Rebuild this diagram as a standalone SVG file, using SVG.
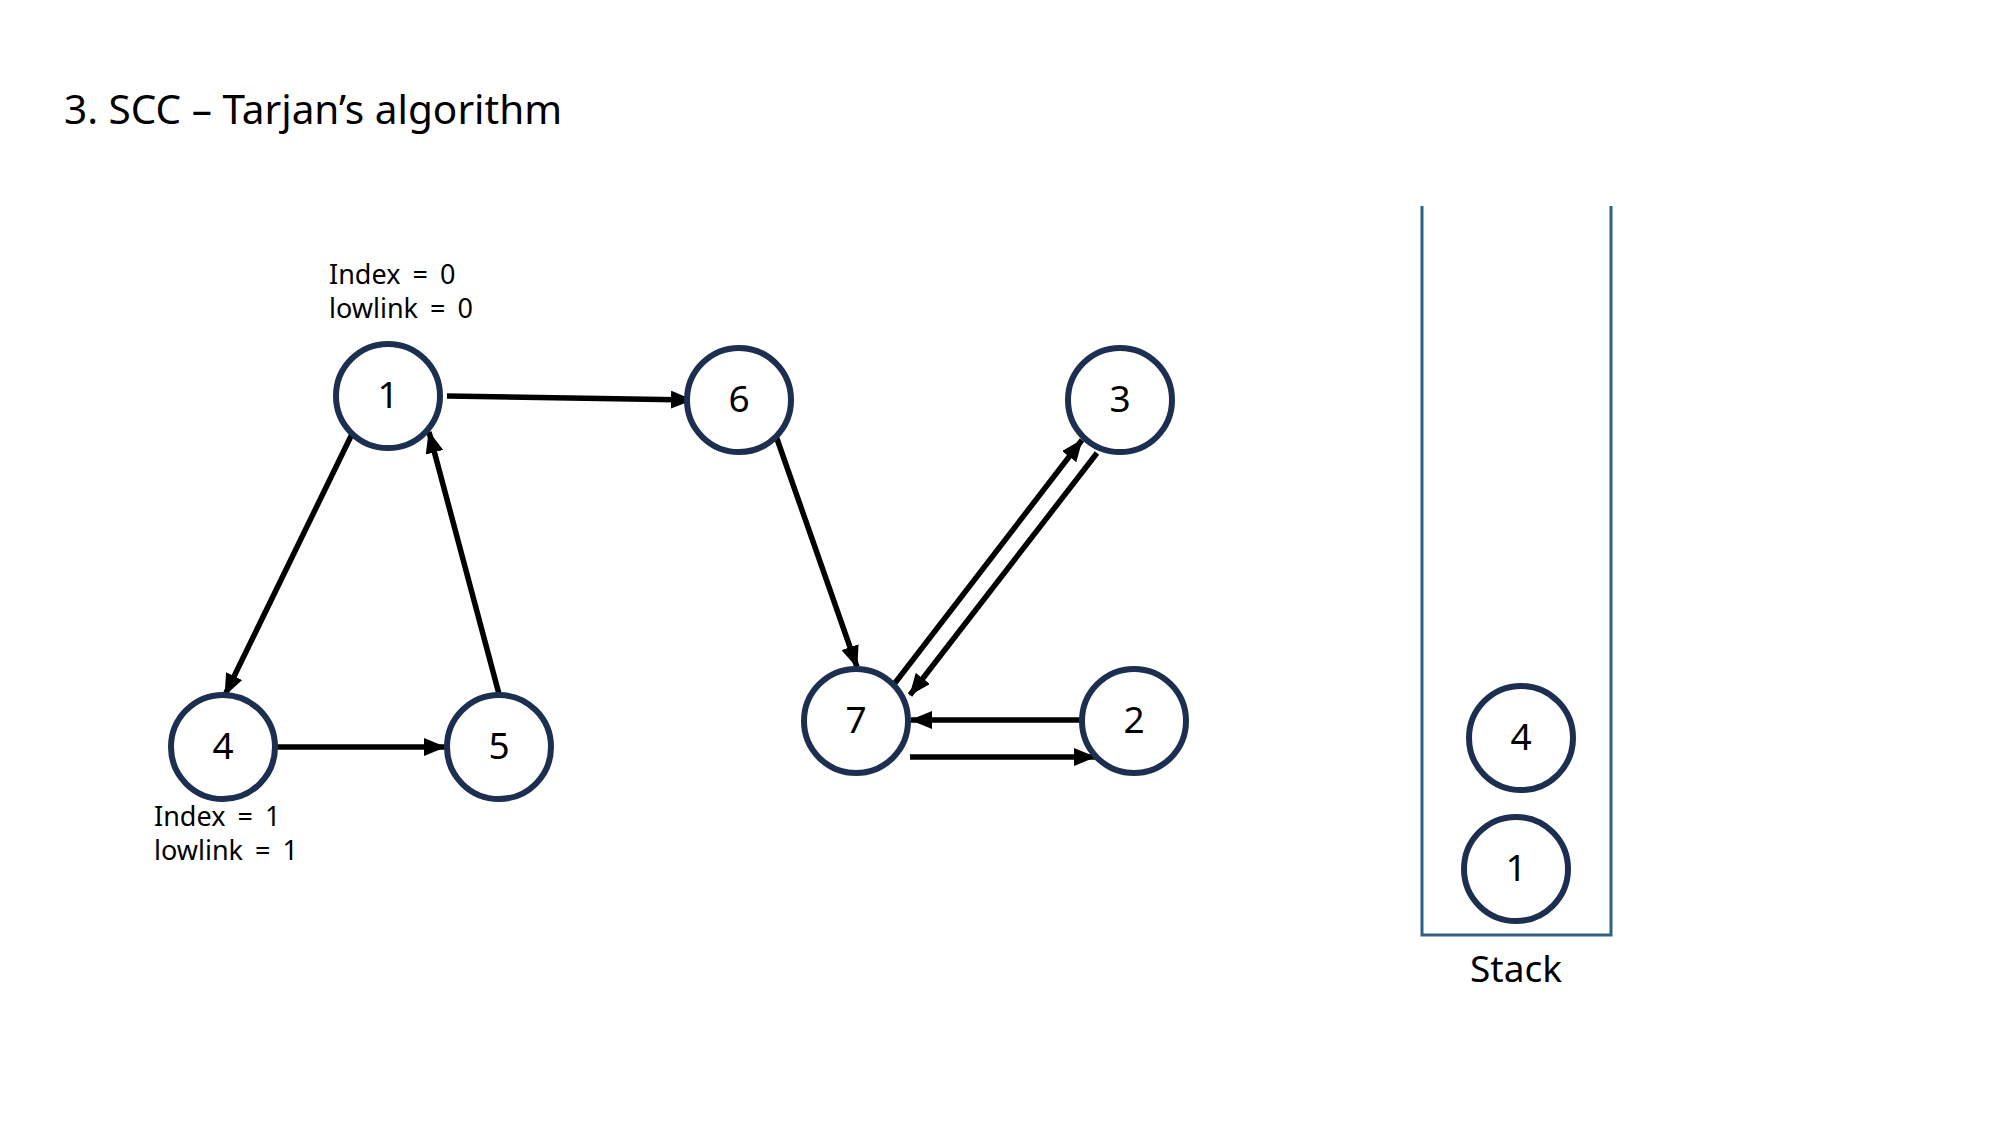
<svg xmlns="http://www.w3.org/2000/svg" width="2000" height="1125" viewBox="0 0 2000 1125">
<defs>
<marker id="ah" markerUnits="userSpaceOnUse" markerWidth="22" markerHeight="18" viewBox="0 0 22 18" refX="21" refY="9" orient="auto">
<path d="M0,0 L22,9 L0,18 Z" fill="#000"/>
</marker>
<style>
text{font-family:"Noto Sans","Open Sans","DejaVu Sans",sans-serif;fill:#000}
.node circle{fill:#fff;stroke:#1c2f50;stroke-width:6}
.node text{font-size:37px;text-anchor:middle}
.edge{stroke:#000;stroke-width:5.5;fill:none;marker-end:url(#ah)}
.lbl{font-size:27px;word-spacing:5px}
.stack{stroke:#2e6183;stroke-width:3;fill:none}
</style>
</defs>
<rect width="2000" height="1125" fill="#fff"/>
<text x="64" y="124" font-size="40.5">3. SCC – Tarjan’s algorithm</text>
<g id="connectors">
<line class="edge" x1="447" y1="396" x2="692" y2="400"/>
<line class="edge" x1="352" y1="434" x2="225" y2="695"/>
<line class="edge" x1="499" y1="694" x2="429" y2="432"/>
<line class="edge" x1="277" y1="747" x2="445" y2="747"/>
<line class="edge" x1="776" y1="436" x2="857" y2="667"/>
<line class="edge" x1="895" y1="683" x2="1082" y2="440"/>
<line class="edge" x1="1097" y1="453" x2="910" y2="695"/>
<line class="edge" x1="1082" y1="720" x2="911" y2="720"/>
<line class="edge" x1="910" y1="757" x2="1095" y2="757"/>
</g>
<g id="node1" class="node"><circle cx="388" cy="396" r="52"/><text x="388" y="408">1</text></g>
<g id="node6" class="node"><circle cx="739" cy="400" r="52"/><text x="739" y="412">6</text></g>
<g id="node3" class="node"><circle cx="1120" cy="400" r="52"/><text x="1120" y="412">3</text></g>
<g id="node7" class="node"><circle cx="856" cy="721" r="52"/><text x="856" y="733">7</text></g>
<g id="node2" class="node"><circle cx="1134" cy="721" r="52"/><text x="1134" y="733">2</text></g>
<g id="node4" class="node"><circle cx="223" cy="747" r="52"/><text x="223" y="759">4</text></g>
<g id="node5" class="node"><circle cx="499" cy="747" r="52"/><text x="499" y="759">5</text></g>
<g id="label1">
<text class="lbl" x="329" y="284">Index = 0</text>
<text class="lbl" x="329" y="318">lowlink = 0</text>
</g>
<g id="label4">
<text class="lbl" x="154" y="826">Index = 1</text>
<text class="lbl" x="154" y="860">lowlink = 1</text>
</g>
<g id="stack">
<polyline class="stack" points="1422,206 1422,935 1611,935 1611,206"/>
<text x="1516" y="982" font-size="37" text-anchor="middle">Stack</text>
</g>
<g id="stack4" class="node"><circle cx="1521" cy="738" r="52"/><text x="1521" y="750">4</text></g>
<g id="stack1" class="node"><circle cx="1516" cy="869" r="52"/><text x="1516" y="881">1</text></g>
</svg>
